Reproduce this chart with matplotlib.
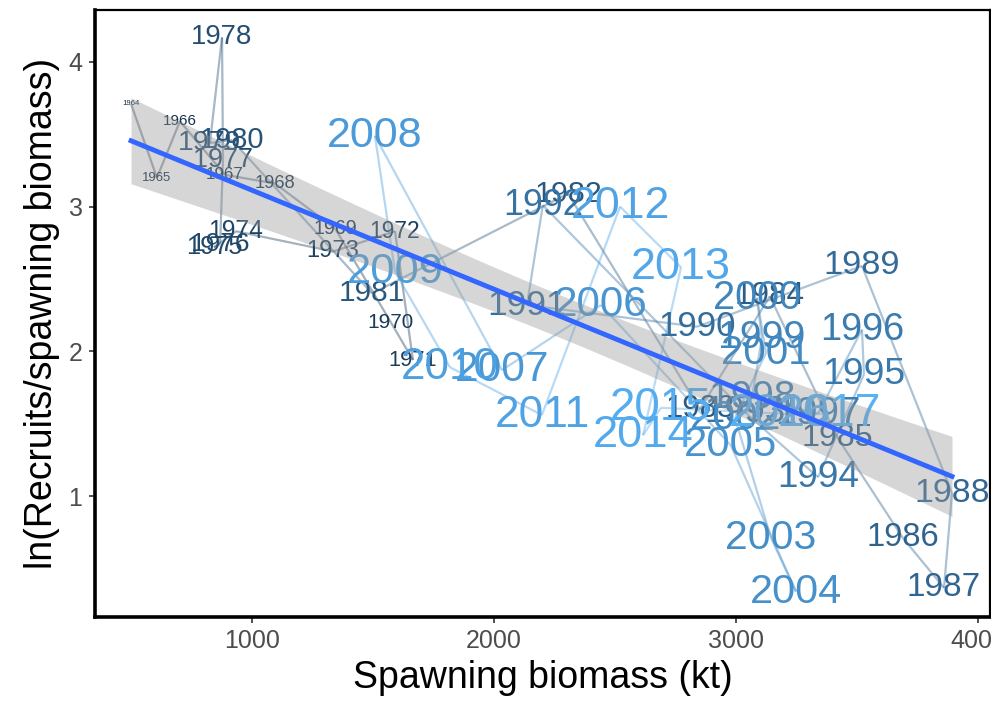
import numpy as np
import matplotlib.pyplot as plt
from matplotlib.colors import LinearSegmentedColormap

plt.rcParams['font.family'] = ['Liberation Sans', 'DejaVu Sans']

years = list(range(1964, 2018))
ssb = [500, 607, 702, 888, 1095, 1343, 1574, 1665, 1591, 1335,
       934, 843, 868, 880, 876, 826, 917, 1496, 2306, 2851,
       3140, 3421, 3690, 3860, 3893, 3521, 2839, 2136, 2202, 3037,
       3339, 3529, 3521, 3339, 3066, 3107, 3087, 3124, 2996, 3145,
       3248, 2979, 2442, 2033, 1508, 1591, 1818, 2198, 2521, 2773,
       2616, 2690, 3182, 3388]
log_rs = [3.71, 3.20, 3.59, 3.22, 3.16, 2.85, 2.20, 1.94, 2.83, 2.69,
          2.83, 2.72, 2.74, 3.32, 4.17, 3.44, 3.46, 2.40, 3.09, 1.60,
          2.38, 1.40, 0.71, 0.365, 1.02, 2.59, 2.17, 2.32, 3.01, 1.58,
          1.13, 1.84, 2.15, 1.57, 1.68, 2.09, 2.37, 1.99, 1.54, 0.71,
          0.34, 1.35, 2.32, 1.87, 3.49, 2.55, 1.89, 1.56, 3.00, 2.58,
          1.42, 1.61, 1.57, 1.57]

x = np.array(ssb, dtype=float)
y = np.array(log_rs)
yr = np.array(years)

cmap = LinearSegmentedColormap.from_list('yr', ['#132B43', '#56B1F7'])
frac = (yr - yr.min()) / (yr.max() - yr.min())
cols = cmap(frac)
# area scaling of label size, like scale_size
sizes = 33.5 * (1 + 5 * np.sqrt(frac)) / 6

fig = plt.figure(figsize=(9.91, 7.01), dpi=100)
ax = fig.add_axes([95 / 991, 1 - 617 / 701, 895 / 991, 607 / 701])

# path in year order
for i in range(len(x) - 1):
    ax.plot(x[i:i + 2], y[i:i + 2], color=cols[i], alpha=0.4, lw=1.6,
            solid_capstyle='butt', zorder=1)

for xi, yi, t, c, s in zip(x, y, yr, cols, sizes):
    ax.text(xi, yi, str(t), color=c, fontsize=s, ha='center', va='center',
            zorder=2)

# linear fit with 95% band
n = len(x)
b, a = np.polyfit(x, y, 1)
res = y - (a + b * x)
s_err = np.sqrt(np.sum(res ** 2) / (n - 2))
xx = np.linspace(x.min(), x.max(), 80)
yy = a + b * xx
se = s_err * np.sqrt(1 / n + (xx - x.mean()) ** 2 / np.sum((x - x.mean()) ** 2))
tcrit = 2.0066
ax.fill_between(xx, yy - tcrit * se, yy + tcrit * se, color='#999999',
                alpha=0.4, lw=0, zorder=3)
ax.plot(xx, yy, color='#3366FF', lw=3.5, zorder=4)

ax.set_xlim(351, 4050)
ax.set_ylim(0.164, 4.359)
ax.set_xticks([1000, 2000, 3000, 4000])
ax.set_yticks([1, 2, 3, 4])
ax.tick_params(length=4, width=1.2, color='#333333', labelcolor='#4D4D4D',
               labelsize=18, pad=5)
for side in ['top', 'right']:
    ax.spines[side].set_linewidth(1.6)
for side in ['left', 'bottom']:
    ax.spines[side].set_linewidth(2.6)

ax.set_xlabel('Spawning biomass (kt)', fontsize=27, labelpad=5)
ax.set_ylabel('ln(Recruits/spawning biomass)', fontsize=27, labelpad=6)

fig.savefig('out.png', dpi=100)
